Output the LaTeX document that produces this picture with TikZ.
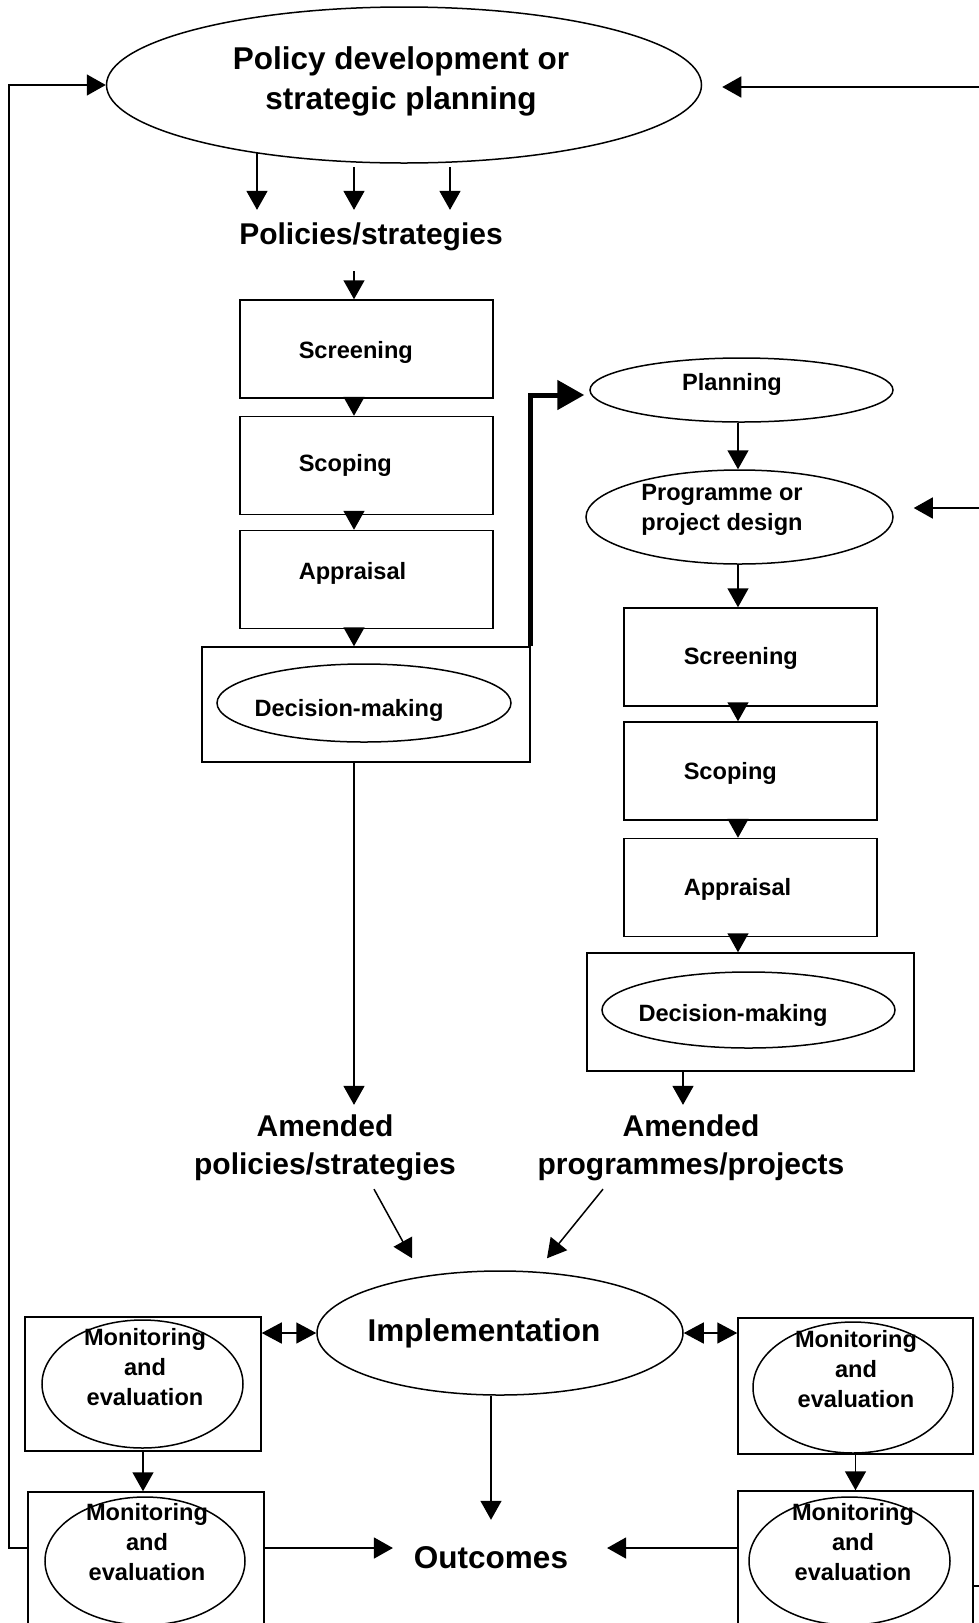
\documentclass[tikz,border=0pt]{standalone}
\usepackage{fontspec}
\setmainfont{Liberation Sans}
\usetikzlibrary{shapes.geometric, arrows.meta}

\tikzset{
    oval/.style={draw, ellipse, inner sep=0pt},
    stagebox/.style={draw, rectangle, inner sep=0pt},
    stepbox/.style={stagebox, minimum width=253pt, minimum height=98pt},
    bigtxt/.style={font=\fontsize{30}{38}\selectfont\bfseries, align=center},
    headtxt/.style={font=\fontsize{31.5}{40}\selectfont\bfseries, align=center},
    smalltxt/.style={font=\fontsize{23.6}{30}\selectfont\bfseries, align=center},
    steplabel/.style={smalltxt, anchor=west, inner sep=0pt},
    arr/.style={-{Triangle[length=19pt, width=21pt]}},
    dbl/.style={{Triangle[length=20pt, width=21pt]}-{Triangle[length=20pt, width=21pt]}},
    thickarr/.style={line width=5pt, -{Triangle[length=27pt, width=29pt]}},
}

\begin{document}
\begin{tikzpicture}[x=1pt, y=-1pt, line width=1.5pt]
                    \useasboundingbox (0,0) rectangle (979,1623);
                    \clip (0,0) rectangle (979,1623);

                    % policy level
                    \node[oval, minimum width=595pt, minimum height=156pt] (pol)   at (404, 85)     {};
                    \node[headtxt]  (pol-t)  at (401, 81)     {Policy development or\\strategic planning};
                    \node[bigtxt]   (strat)  at (371, 237)    {Policies/strategies};
                    \node[stepbox]  (scr1)   at (366.5, 349)  {};
                    \node[stepbox]  (scp1)   at (366.5, 465.5){};
                    \node[stepbox]  (apr1)   at (366.5, 579.5){};
                    \node[steplabel] (scr1-t) at (298, 352)   {Screening};
                    \node[steplabel] (scp1-t) at (298, 465)   {Scoping};
                    \node[steplabel] (apr1-t) at (298, 573)   {Appraisal};
                    \node[stagebox, minimum width=328pt, minimum height=115pt] (dec1) at (366, 704.5) {};
                    \node[oval, minimum width=294pt, minimum height=78pt] (dec1-o) at (364, 703) {};
                    \node[smalltxt] (dec1-t) at (349, 710)    {Decision-making};
                    \node[bigtxt]   (amd1)   at (325, 1148)   {Amended\\policies/strategies};

                    % programme level
                    \node[oval, minimum width=303pt, minimum height=64pt] (plan)  at (741.5, 390)  {};
                    \node[smalltxt] (plan-t) at (732, 384)    {Planning};
                    \node[oval, minimum width=307pt, minimum height=94pt] (prog)  at (739.5, 517)  {};
                    \node[smalltxt, align=left] (prog-t) at (722, 510) {Programme or\\project design};
                    \node[stepbox]  (scr2)   at (750.5, 657)  {};
                    \node[stepbox]  (scp2)   at (750.5, 771)  {};
                    \node[stepbox]  (apr2)   at (750.5, 887.5){};
                    \node[steplabel] (scr2-t) at (683, 658)   {Screening};
                    \node[steplabel] (scp2-t) at (683, 773)   {Scoping};
                    \node[steplabel] (apr2-t) at (683, 889)   {Appraisal};
                    \node[stagebox, minimum width=327pt, minimum height=118pt] (dec2) at (750.5, 1012) {};
                    \node[oval, minimum width=293pt, minimum height=76pt] (dec2-o) at (748.5, 1010) {};
                    \node[smalltxt] (dec2-t) at (733, 1015)   {Decision-making};
                    \node[bigtxt]   (amd2)   at (691, 1148)   {Amended\\programmes/projects};

                    % implementation
                    \node[oval, minimum width=366pt, minimum height=124pt] (impl)  at (500, 1333)   {};
                    \node[headtxt]  (impl-t) at (484, 1333)   {Implementation};
                    \node[headtxt]  (out)    at (491, 1558)   {Outcomes};

                    \node[stagebox, minimum width=236pt, minimum height=134pt] (me1) at (143, 1384)   {};
                    \node[oval, minimum width=201pt, minimum height=128pt]   (me1-o) at (142.5, 1384) {};
                    \node[smalltxt] (me1-t)  at (145, 1367)   {Monitoring\\and\\evaluation};
                    \node[stagebox, minimum width=235pt, minimum height=136pt] (me2) at (855.5, 1386) {};
                    \node[oval, minimum width=200pt, minimum height=131pt]   (me2-o) at (853, 1387.5) {};
                    \node[smalltxt] (me2-t)  at (856, 1369)   {Monitoring\\and\\evaluation};
                    \node[stagebox, minimum width=236pt, minimum height=134pt] (me3) at (146, 1559)   {};
                    \node[oval, minimum width=200pt, minimum height=128pt]   (me3-o) at (145, 1561)   {};
                    \node[smalltxt] (me3-t)  at (147, 1542)   {Monitoring\\and\\evaluation};
                    \node[stagebox, minimum width=235pt, minimum height=134pt] (me4) at (855.5, 1558) {};
                    \node[oval, minimum width=201pt, minimum height=128pt]   (me4-o) at (849.5, 1561) {};
                    \node[smalltxt] (me4-t)  at (853, 1542)   {Monitoring\\and\\evaluation};

                    \coordinate (axl)  at (354, 0);
                    \coordinate (axr)  at (738, 0);
                    \coordinate (fbl)  at (9, 1548);
                    \coordinate (fbr1) at (979, 87);
                    \coordinate (fbr2) at (979, 508);
                    \coordinate (fbr3) at (979, 1586);

                    % policy column
                    \draw[arr, shorten >=9pt] ([xshift=-147pt]pol.south |- pol.center) ++(0,68) -- ([xshift=-147pt]pol.south |- strat.north);
                    \foreach \dx in {-50, 46}{
                        \draw[arr, shorten >=9pt] ([xshift=\dx pt, yshift=-3pt]pol.south) -- ([xshift=\dx pt]pol.south |- strat.north);
                        };
                    \draw[arr, shorten <=16pt] (axl |- strat.south) -- (axl |- scr1.north);
                    \foreach \a/\b in {scr1/scp1, scp1/apr1, apr1/dec1}{
                        \draw[arr] (axl |- \a.south) -- (axl |- \b.north);
                        };
                    \draw[arr, shorten >=6pt] (axl |- dec1.south) -- (axl |- amd1.north);
                    \draw[thickarr, shorten >=5pt] (dec1.north east) |- ([yshift=-5pt]plan.west);

                    % programme column
                    \draw[arr] (axr |- plan.south) -- (axr |- prog.north);
                    \draw[arr] (axr |- prog.south) -- (axr |- scr2.north);
                    \foreach \a/\b in {scr2/scp2, scp2/apr2, apr2/dec2}{
                        \draw[arr] (axr |- \a.south) -- (axr |- \b.north);
                        };
                    \draw[arr, shorten >=6pt] ([xshift=-8pt]amd2.north |- dec2.south) -- ([xshift=-8pt]amd2.north);

                    % implementation and outcomes
                    \draw[arr] ([xshift=49pt, yshift=-4pt]amd1.south) -- ([xshift=-88pt, yshift=12pt]impl.north);
                    \draw[arr] ([xshift=-88pt, yshift=-4pt]amd2.south) -- ([xshift=47pt, yshift=12pt]impl.north);
                    \draw[dbl] (me1.east |- impl.west) -- (impl.west);
                    \draw[dbl] (impl.east) -- (me2.west |- impl.east);
                    \draw[arr] (me1.south) -- (me1.south |- me3.north);
                    \draw[arr] (me2.south) -- (me2.south |- me4.north);
                    \draw[arr, shorten >=23pt] (out |- impl.south) -- (out.north);
                    \draw[arr, shorten >=17pt] (me3.east |- fbl) -- (out.west |- fbl);
                    \draw[arr, shorten >=35pt] (me4.west |- fbl) -- (out.east |- fbl);

                    % feedback lines
                    \draw[arr] (me3.west |- fbl) -- (fbl) |- (pol.west);
                    \draw[arr, shorten >=20pt] (fbr1) -- (fbr1 -| pol.east);
                    \draw[arr, shorten >=20pt] (fbr2) -- (fbr2 -| prog.east);
                    \draw (me4.east |- fbr3) -- (fbr3);
                \end{tikzpicture}
\end{document}
